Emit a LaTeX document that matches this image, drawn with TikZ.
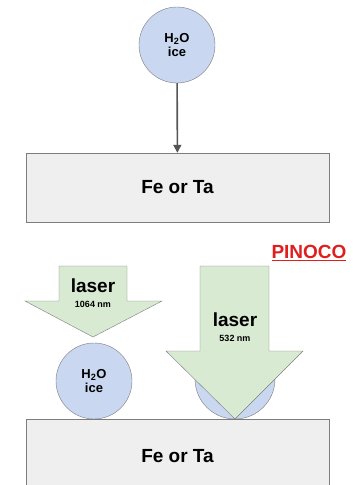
\documentclass[tikz,border=0pt]{standalone}
\usepackage{fontspec}
\setmainfont{Liberation Sans}
\usetikzlibrary{arrows.meta,positioning}
\definecolor{iceblue}{RGB}{201,216,240}
\definecolor{lasergreen}{RGB}{217,234,211}
\definecolor{metalgray}{RGB}{239,239,239}
\definecolor{linegray}{RGB}{125,125,125}
\definecolor{dropgray}{RGB}{85,85,85}
\definecolor{pinocored}{RGB}{225,30,30}

\begin{document}
\begin{tikzpicture}[x=1pt,y=-1pt,
        ice/.style={circle,draw=linegray,fill=iceblue,minimum size=76pt,inner sep=0pt,
                    align=center,font=\bfseries\fontsize{13}{14}\selectfont},
        metal/.style={draw=linegray,fill=metalgray,minimum width=303pt,inner sep=0pt,
                      font=\bfseries\fontsize{19}{19}\selectfont},
        beam/.style={draw=linegray,fill=lasergreen,line join=miter},
        big/.style={font=\bfseries\fontsize{19}{19}\selectfont,inner sep=0pt},
        small/.style={font=\bfseries\fontsize{9}{9}\selectfont,inner sep=0pt}]
    \clip (0,0) rectangle (353,485);
    % top: ice falling onto the metal
    \node[ice] (ice_0) at (177,45) {H\textsubscript{2}O\\ice};
    \node[metal,minimum height=69pt] (metal_0) at (177.5,187.5) {Fe or Ta};
    \draw[dropgray,line width=1.6pt,-{Triangle[length=8pt,width=8pt]}] (ice_0) -- (metal_0);

    % bottom: the two lasers
    \node[metal,minimum height=74pt] (metal_1) at (177.5,456) {Fe or Ta};
    \node[ice] (ice_1) at (94,381) {H\textsubscript{2}O\\ice};
    \node[ice,minimum size=80pt] (ice_2) at (235,379) {};
    \draw[beam] (59,266) -- (127,266) -- (127,301) -- (162,301) -- (93,337)
                -- (25,301) -- (59,301) -- cycle;
    \draw[beam] (200,266) -- (269,266) -- (269,351) -- (303,351) -- (235,419)
                -- (166,351) -- (200,351) -- cycle;
    \node[big] (laser_1) at (93,286) {laser};
    \node[small] (nm_1) at (93,304) {1064 nm};
    \node[big] (laser_2) at (235,320) {laser};
    \node[small] (nm_2) at (235,338) {532 nm};
    \node[big,text=pinocored] (pinoco) at (309,253) {\underline{PINOCO}};
\end{tikzpicture}
\end{document}
